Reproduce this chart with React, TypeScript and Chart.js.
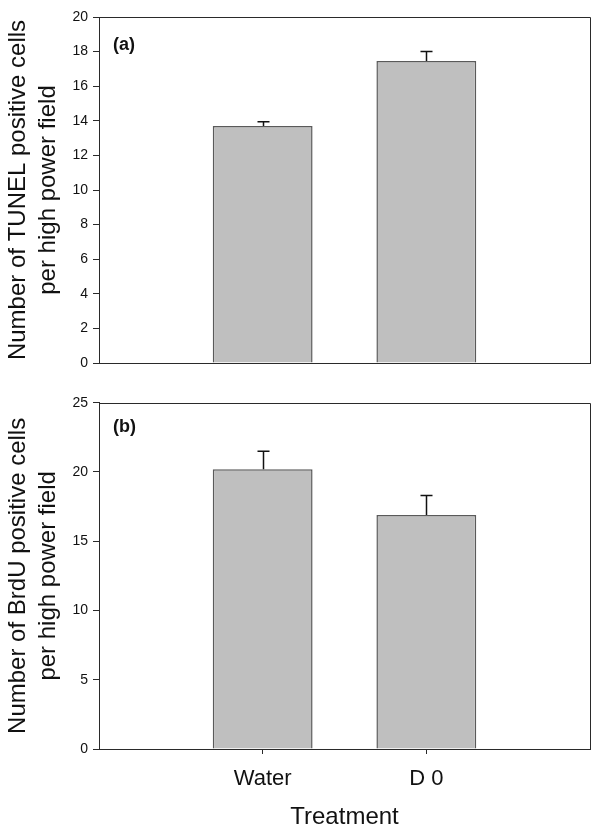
import React, { useEffect, useRef } from "react";
import { Chart, registerables } from "chart.js";

Chart.register(...registerables);

// ---- data ----
const categories = ["Water", "D 0"];
const tunelMeans = [13.7, 17.45];
const tunelErrors = [0.25, 0.55];
const brduMeans = [20.2, 16.9];
const brduErrors = [1.3, 1.4];
const tunelTicks = [0, 2, 4, 6, 8, 10, 12, 14, 16, 18, 20];
const brduTicks = [0, 5, 10, 15, 20, 25];
const tunelTitle = ["Number of TUNEL positive cells", "per high power field"];
const brduTitle = ["Number of BrdU positive cells", "per high power field"];
const xTitle = "Treatment";
const panelLetters = ["(a)", "(b)"];

const FONT = '"Liberation Sans", Arial, Helvetica, sans-serif';
const AXIS = "#2a2a2a";

function makeErrorPlugin(errors: number[], means: number[]) {
  return {
    id: "errorBars",
    afterDatasetsDraw(chart: any) {
      const meta = chart.getDatasetMeta(0);
      const y = chart.scales.y;
      const ctx = chart.ctx;
      ctx.save();
      ctx.strokeStyle = "#111";
      ctx.lineWidth = 1.5;
      meta.data.forEach((bar: any, i: number) => {
        const idx = i - 1;
        if (idx < 0 || idx >= means.length) return;
        const x = Math.round(bar.x) + 0.5;
        const yTop = y.getPixelForValue(means[idx]);
        const yErr = y.getPixelForValue(means[idx] + errors[idx]);
        ctx.beginPath();
        ctx.moveTo(x, yTop);
        ctx.lineTo(x, yErr);
        ctx.moveTo(x - 6, yErr);
        ctx.lineTo(x + 6, yErr);
        ctx.stroke();
      });
      ctx.restore();
    },
  };
}

function makeFramePlugin(letter: string, dy: number) {
  return {
    id: "frame",
    afterDraw(chart: any) {
      const { ctx, chartArea } = chart;
      ctx.save();
      ctx.strokeStyle = AXIS;
      ctx.lineWidth = 1;
      ctx.beginPath();
      ctx.moveTo(Math.round(chartArea.left) + 0.5, Math.round(chartArea.top) + 0.5);
      ctx.lineTo(Math.round(chartArea.right) + 0.5, Math.round(chartArea.top) + 0.5);
      ctx.lineTo(Math.round(chartArea.right) + 0.5, Math.round(chartArea.bottom) + 0.5);
      ctx.stroke();
      ctx.fillStyle = "#111";
      ctx.font = `bold 18px ${FONT}`;
      ctx.textAlign = "left";
      ctx.textBaseline = "middle";
      ctx.fillText(letter, chartArea.left + 14, chartArea.top + dy);
      ctx.restore();
    },
  };
}

function buildConfig(opts: {
  means: number[];
  errors: number[];
  ticks: number[];
  title: string[];
  letter: string;
  letterDy: number;
  showX: boolean;
  padding: any;
  xHeight: number;
}) {
  const labels = ["", ...categories, ""];
  const data = [null, ...opts.means, null];
  const max = opts.ticks[opts.ticks.length - 1];
  return {
    type: "bar",
    data: {
      labels,
      datasets: [
        {
          data,
          backgroundColor: "#bfbfbf",
          borderColor: "#5a5a5a",
          borderWidth: 1.5,
          categoryPercentage: 1,
          barPercentage: 0.61,
        },
      ],
    },
    options: {
      responsive: false,
      animation: false,
      devicePixelRatio: 1,
      layout: { padding: opts.padding },
      plugins: {
        legend: { display: false },
        tooltip: { enabled: false },
      },
      scales: {
        x: {
          type: "category",
          offset: false,
          afterFit: (s: any) => {
            s.height = opts.xHeight;
            s.paddingLeft = 0;
            s.paddingRight = 0;
          },
          ticks: {
            display: opts.showX,
            autoSkip: false,
            maxRotation: 0,
            color: "#111",
            padding: 12,
            font: { family: FONT, size: 22 },
          },
          grid: {
            display: opts.showX,
            offset: false,
            drawOnChartArea: false,
            drawTicks: true,
            tickLength: 5,
            color: (c: any) =>
              c.index >= 1 && c.index <= categories.length ? AXIS : "rgba(0,0,0,0)",
          },
          border: { display: true, color: AXIS, width: 1 },
          title: {
            display: opts.showX,
            text: xTitle,
            color: "#111",
            font: { family: FONT, size: 24 },
            padding: { top: 0, bottom: 8 },
          },
        },
        y: {
          min: 0,
          max,
          afterBuildTicks: (s: any) => {
            s.ticks = opts.ticks.map((v) => ({ value: v }));
          },
          afterFit: (s: any) => {
            s.width = 99;
          },
          ticks: {
            color: "#111",
            padding: 5,
            font: { family: FONT, size: 14 },
          },
          grid: {
            drawOnChartArea: false,
            drawTicks: true,
            tickLength: 6,
            color: AXIS,
          },
          border: { display: true, color: AXIS, width: 1 },
          title: {
            display: true,
            text: opts.title,
            color: "#111",
            font: { family: FONT, size: 24, lineHeight: 1.25 },
            padding: { top: 3, bottom: 0 },
          },
        },
      },
    },
    plugins: [makeErrorPlugin(opts.errors, opts.means), makeFramePlugin(opts.letter, opts.letterDy)],
  };
}

export default function App() {
  const refA = useRef<HTMLCanvasElement | null>(null);
  const refB = useRef<HTMLCanvasElement | null>(null);

  useEffect(() => {
    const a = new Chart(
      refA.current as HTMLCanvasElement,
      buildConfig({
        means: tunelMeans,
        errors: tunelErrors,
        ticks: tunelTicks,
        title: tunelTitle,
        letter: panelLetters[0],
        letterDy: 28,
        showX: false,
        padding: { left: 0, right: 10, top: 17, bottom: 22 },
        xHeight: 0,
      }) as any
    );
    const b = new Chart(
      refB.current as HTMLCanvasElement,
      buildConfig({
        means: brduMeans,
        errors: brduErrors,
        ticks: brduTicks,
        title: brduTitle,
        letter: panelLetters[1],
        letterDy: 24,
        showX: true,
        padding: { left: 0, right: 10, top: 17.7, bottom: 0 },
        xHeight: 91,
      }) as any
    );
    return () => {
      a.destroy();
      b.destroy();
    };
  }, []);

  return (
    <div style={{ position: "absolute", left: 0, top: 0, width: 600, height: 840, background: "#fff" }}>
      <canvas
        ref={refA}
        width={600}
        height={385}
        style={{ position: "absolute", left: 0, top: 0, width: 600, height: 385 }}
      />
      <canvas
        ref={refB}
        width={600}
        height={455}
        style={{ position: "absolute", left: 0, top: 385, width: 600, height: 455 }}
      />
    </div>
  );
}
